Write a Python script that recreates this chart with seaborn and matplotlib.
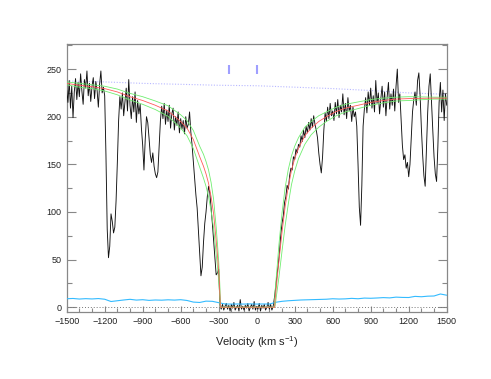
import numpy as np
import matplotlib
matplotlib.use("Agg")
import matplotlib.pyplot as plt
from matplotlib.ticker import MultipleLocator
import seaborn as sns

# observed spectrum, sampled every 10 km/s from -1500 to 1500
velocity = np.arange(-1500, 1501, 10)
flux = [
    228, 215, 238, 209, 232, 199, 226, 240, 218, 236,   # -1500
    221, 245, 227, 213, 239, 230, 248, 222, 235, 216,   # -1400
    232, 241, 219, 237, 228, 210, 234, 248, 225, 231,   # -1300
    222, 160, 82, 52, 64, 98, 90, 78, 84, 112,          # -1200
    152, 196, 221, 208, 225, 201, 216, 230, 206, 239,   # -1100
    212, 198, 221, 205, 226, 194, 217, 203, 213, 188,   # -1000
    170, 144, 176, 200, 194, 178, 160, 152, 162, 148,   # -900
    140, 136, 142, 168, 196, 211, 198, 214, 192, 207,   # -800
    195, 212, 188, 203, 209, 186, 200, 191, 205, 183,   # -700
    198, 187, 196, 182, 200, 188, 192, 205, 184, 170,   # -600
    153, 135, 118, 104, 80, 55, 33, 42, 68, 88,         # -500
    100, 116, 127, 120, 104, 88, 70, 52, 34, 36,        # -400
    40, 2, -2, 3, -3, 1, 4, -2, 2, -4,                  # -300
    3, -1, 5, -3, 0, 2, -4, 8, -2, 1,                   # -200
    -3, 2, -1, 4, -4, 0, 3, -2, 6, -3,                  # -100
    1, -2, 4, -4, 2, -1, 3, -3, 0, 5,                   # 0
    -2, 3, -3, 1, 10, 21, 34, 44, 58, 76,               # 100
    88, 96, 110, 116, 128, 124, 138, 146, 144, 158,     # 200
    155, 166, 162, 171, 168, 180, 174, 186, 178, 190,   # 300
    183, 194, 186, 198, 189, 201, 192, 186, 178, 162,   # 400
    150, 141, 158, 186, 204, 195, 210, 198, 214, 201,   # 500
    206, 196, 215, 203, 218, 199, 212, 205, 224, 202,   # 600
    214, 198, 220, 206, 212, 195, 210, 200, 205, 190,   # 700
    150, 105, 86, 128, 190, 208, 220, 204, 226, 212,    # 800
    230, 209, 222, 205, 238, 214, 225, 203, 219, 232,   # 900
    210, 226, 201, 221, 236, 208, 224, 212, 229, 206,   # 1000
    232, 250, 215, 224, 196, 170, 155, 160, 146, 152,   # 1100
    137, 150, 178, 205, 218, 226, 212, 238, 246, 222,   # 1200
    188, 160, 138, 127, 165, 205, 232, 245, 215, 186,   # 1300
    158, 140, 132, 168, 215, 236, 205, 228, 196, 224,   # 1400
    212,
]

# error spectrum, every 50 km/s
err_v = np.arange(-1500, 1501, 50)
err = [8.9, 9.2, 8.6, 9.0, 8.7, 9.1, 8.4, 6.0, 6.8, 7.6, 8.3, 7.5, 7.9, 7.2, 7.6,
       7.4, 7.8, 7.5, 7.9, 7.1, 5.4, 5.0, 6.4, 6.2, 4.8, 3.4, 3.3, 3.4, 3.3, 3.5,
       3.3, 3.4, 3.3, 5.2, 6.2, 6.8, 7.2, 7.6, 7.8, 8.0, 8.2, 8.4, 8.9, 8.6, 8.8,
       9.3, 8.9, 9.6, 9.4, 9.7, 10.1, 9.8, 10.6, 10.3, 10.2, 11.4, 11.0, 11.6,
       11.8, 13.9, 12.6]

# continuum
cont_v = [-1500, -1200, -900, -600, -300, 0, 300, 600, 900, 1200, 1500]
cont = [237.5, 236.5, 235, 234, 233, 232.5, 231, 229.5, 227.5, 225, 223.5]

# damped profile fit and its upper / lower bounds
fit_v = [-1500, -1400, -1300, -1200, -1100, -1000, -900, -800, -700, -600,
         -550, -500, -450, -420, -400, -380, -360, -340, -320, -310, -300,
         -295, -290, -287, -284,
         138, 142, 146, 150, 160, 175, 200, 225, 250, 275, 300, 330, 380,
         430, 490, 550, 620, 700, 800, 900, 1000, 1100, 1200, 1300, 1400, 1500]
fit_mid = [235, 233, 231.5, 229.5, 226, 221, 217, 212, 206, 195,
           188, 176, 158, 148, 140, 130, 116, 98, 70, 55, 38, 27, 12, 0, 0,
           0, 0, 9, 14, 28, 48, 79, 106, 127, 144, 156, 167, 180,
           188, 195, 200, 205, 209, 212, 215, 217, 218.5, 219, 219.3, 219.5, 219.5]
fit_hi = [236.5, 235, 233.5, 232, 229, 224.5, 221, 216.5, 211.5, 202,
          196, 185.5, 169, 160.5, 153, 144, 131, 113, 84, 67, 48, 35, 20, 8, 0,
          0, 8, 18, 24, 40, 65, 99, 126, 145, 159, 169, 178, 189,
          195, 201, 205, 209.5, 213, 215.5, 218, 219.5, 220.5, 221, 220.8, 220.5, 220.5]
fit_lo = [233.5, 231, 229.5, 227, 223, 217.5, 213, 207.5, 200.5, 188,
          180, 166.5, 147, 135.5, 127, 116, 101, 83, 56, 43, 28, 19, 5, 0, 0,
          0, 0, 2, 6, 16, 31, 59, 86, 109, 129, 143, 156, 171,
          181, 189, 195, 200.5, 205, 208.5, 212, 214.5, 216.5, 217, 217.8, 218.5, 218.5]

# absorber components
comp_v = [-220, 5]

sns.set_style("ticks")
plt.rcParams["font.family"] = ["Liberation Sans", "DejaVu Sans"]
plt.rcParams["mathtext.fontset"] = "custom"
plt.rcParams["mathtext.rm"] = "Liberation Sans"
plt.rcParams["mathtext.it"] = "Liberation Sans"

fig = plt.figure(figsize=(4.91, 3.79), dpi=100)
ax = fig.add_axes([0.1358, 0.1768, 0.774, 0.7063])

ax.axhline(0, color="#777777", lw=0.7, ls=(0, (1, 2)), zorder=1)
sns.lineplot(x=cont_v, y=cont, ax=ax, color="#b8b8ff", lw=0.8, ls=(0, (1, 1.5)), zorder=2)
sns.lineplot(x=velocity, y=flux, ax=ax, color="#111111", lw=0.65, zorder=3)
sns.lineplot(x=err_v, y=err, ax=ax, color="#33bbff", lw=0.8, zorder=3)
sns.lineplot(x=fit_v, y=fit_hi, ax=ax, color="#70ee70", lw=0.6, zorder=4)
sns.lineplot(x=fit_v, y=fit_lo, ax=ax, color="#70ee70", lw=0.6, zorder=4)
sns.lineplot(x=fit_v, y=fit_mid, ax=ax, color="#ff5a5a", lw=0.6, zorder=5)
ax.vlines(comp_v, 245, 254, color="#9f9fff", lw=1.5, zorder=5)

ax.set_xlim(-1500, 1500)
ax.set_ylim(-5, 276)
ax.xaxis.set_major_locator(MultipleLocator(300))
ax.xaxis.set_minor_locator(MultipleLocator(100))
ax.yaxis.set_major_locator(MultipleLocator(50))
ax.yaxis.set_minor_locator(MultipleLocator(25))

ax.tick_params(which="both", direction="in", right=True, top=False,
               color="#888888", labelcolor="#222222", labelsize=6.5, width=0.8)
ax.tick_params(axis="x", which="major", length=4.3)
ax.tick_params(axis="x", which="minor", length=3)
ax.tick_params(axis="y", which="major", length=6.5)
ax.tick_params(axis="y", which="minor", length=3.5)
for s in ax.spines.values():
    s.set_color("#888888")
    s.set_linewidth(0.9)

ax.set_xlabel("Velocity (km s$^{-1}$)", fontsize=8, color="#222222", labelpad=6)
ax.set_ylabel("")

fig.savefig("out.png", dpi=100)
